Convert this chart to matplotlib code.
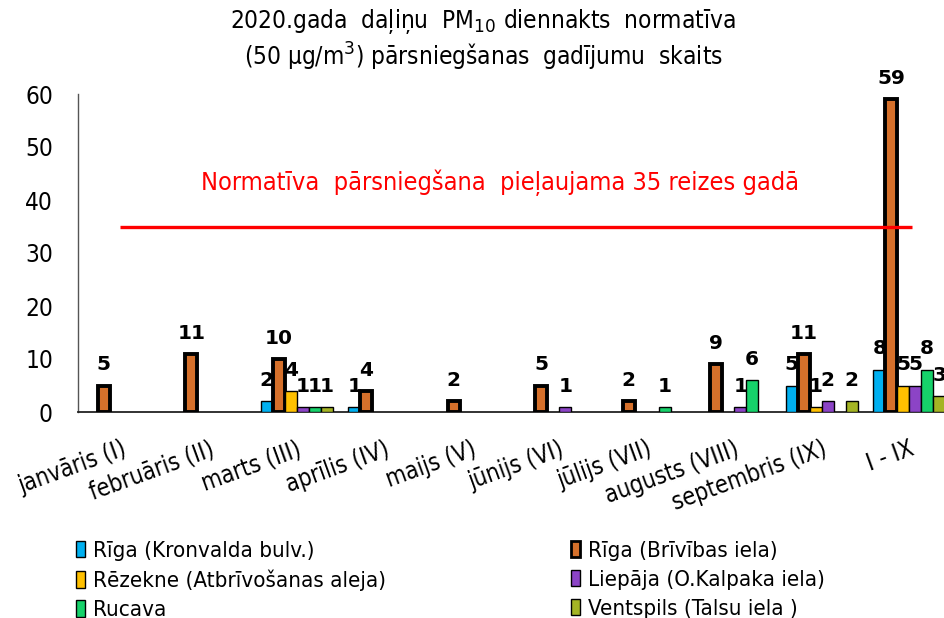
import numpy as np
import matplotlib
matplotlib.use("Agg")
import matplotlib.pyplot as plt
from matplotlib.patches import Patch

categories = ["janvāris (I)", "februāris (II)", "marts (III)", "aprīlis (IV)", "maijs (V)",
              "jūnijs (VI)", "jūlijs (VII)", "augusts (VIII)", "septembris (IX)", "I - IX"]
series_names = ["Rīga (Kronvalda bulv.)", "Rīga (Brīvības iela)", "Rēzekne (Atbrīvošanas aleja)",
                "Liepāja (O.Kalpaka iela)", "Rucava", "Ventspils (Talsu iela )"]
kronvalda = [0, 0, 2, 1, 0, 0, 0, 0, 5, 8]
brivibas = [5, 11, 10, 4, 2, 5, 2, 9, 11, 59]
rezekne = [0, 0, 4, 0, 0, 0, 0, 0, 1, 5]
liepaja = [0, 0, 1, 0, 0, 1, 0, 1, 2, 5]
rucava = [0, 0, 1, 0, 0, 0, 1, 6, 0, 8]
ventspils = [0, 0, 1, 0, 0, 0, 0, 0, 2, 3]
norm_limit = 35
yticks = [0, 10, 20, 30, 40, 50, 60]

series = [kronvalda, brivibas, rezekne, liepaja, rucava, ventspils]
colors = ["#00B0F0", "#D5702B", "#FFC000", "#8C44C6", "#16D16A", "#A4B424"]
edge_w = [1.0, 2.8, 1.0, 1.0, 1.0, 1.0]

plt.rcParams['font.family'] = ['DejaVu Sans']

fig = plt.figure(figsize=(9.44, 6.18), dpi=100)
ax = fig.add_axes([78 / 944, 206 / 618, 875 / 944, 318 / 618])

x = np.arange(len(categories))
w = 0.137
for i, (vals, c, lw) in enumerate(zip(series, colors, edge_w)):
    vals = np.array(vals, dtype=float)
    mask = vals > 0
    xs = x[mask] + (i - 2.5) * w
    ax.bar(xs, vals[mask], width=w, color=c, edgecolor="black", linewidth=lw, zorder=3)
    for xx, v in zip(xs, vals[mask]):
        ax.annotate(f"{int(v)}", (xx, v), xytext=(0, 8), textcoords="offset points",
                    ha="center", va="bottom", fontsize=14.5, fontweight="bold", zorder=5)

ax.hlines(norm_limit, -0.02, 9.03, color="#FF0000", linewidth=2.4, zorder=4)
ax.text(4.32, 43.2, "Normatīva  pārsniegšana  pieļaujama 35 reizes gadā", color="#FF0000",
        fontsize=18.2, ha="center", va="center", fontstretch="condensed")

ax.set_xlim(-0.5, len(categories) - 0.5)
ax.set_ylim(0, 60)
ax.set_yticks(yticks)
ax.set_yticklabels([str(t) for t in yticks], fontsize=17.5, fontstretch="condensed")
ax.set_xticks(x)
ax.set_xticklabels(categories, fontsize=17, rotation=20, ha="right", rotation_mode="anchor",
                   fontstretch="condensed")
ax.tick_params(axis="both", length=0)
ax.tick_params(axis="y", pad=18)
ax.tick_params(axis="x", pad=18)
for s in ["top", "right"]:
    ax.spines[s].set_visible(False)
ax.spines["left"].set_color("#555555")
ax.spines["bottom"].set_color("#222222")
ax.spines["left"].set_linewidth(1.0)
ax.spines["bottom"].set_linewidth(1.3)

fig.text(483 / 944, 1 - 22 / 618, "2020.gada  daļiņu  PM$_{10}$ diennakts  normatīva",
         ha="center", va="center", fontsize=17.5, fontstretch="condensed")
fig.text(483 / 944, 1 - 57 / 618, "(50 μg/m$^{3}$) pārsniegšanas  gadījumu  skaits",
         ha="center", va="center", fontsize=17.5, fontstretch="condensed")

def handle(i):
    return Patch(facecolor=colors[i], edgecolor="black", linewidth=edge_w[i] if i != 1 else 2.0)

leg_kw = dict(frameon=False, prop=dict(size=16, stretch="condensed"), handlelength=0.4,
              handleheight=0.75, handletextpad=0.35, labelspacing=0.4, borderpad=0,
              borderaxespad=0, loc="upper left")
l1 = fig.legend([handle(0), handle(2), handle(4)], [series_names[0], series_names[2], series_names[4]],
                bbox_to_anchor=(76 / 944, 1 - 541 / 618), **leg_kw)
l2 = fig.legend([handle(1), handle(3), handle(5)], [series_names[1], series_names[3], series_names[5]],
                bbox_to_anchor=(571 / 944, 1 - 541 / 618), **leg_kw)

fig.savefig("out.png", dpi=100)
